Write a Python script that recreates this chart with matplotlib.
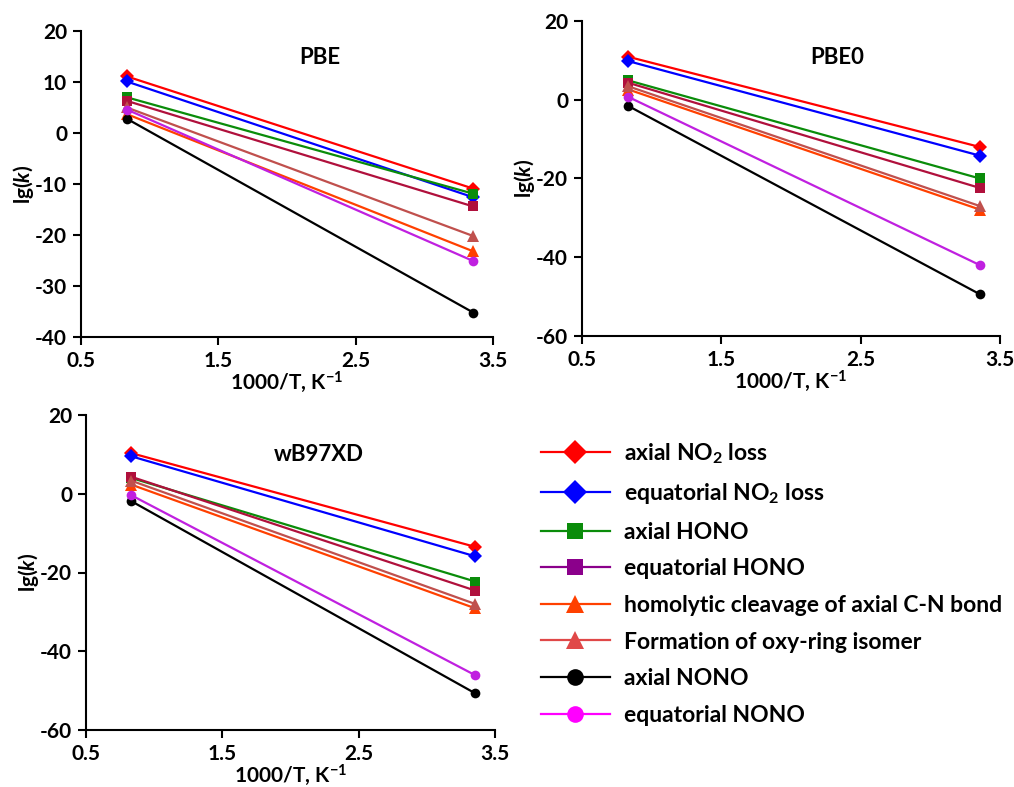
import matplotlib
matplotlib.use("Agg")
import matplotlib.pyplot as plt
from matplotlib.lines import Line2D

plt.rcParams["font.family"] = ["Lato", "DejaVu Sans"]
plt.rcParams["font.weight"] = "bold"
plt.rcParams["axes.labelweight"] = "bold"
plt.rcParams["axes.unicode_minus"] = False
plt.rcParams["mathtext.fontset"] = "custom"
plt.rcParams["mathtext.rm"] = "Lato:bold"
plt.rcParams["mathtext.it"] = "Lato:bold:italic"
plt.rcParams["mathtext.bf"] = "Lato:bold"

# 1000/T at 1200 K and 298 K
inv_t = [1000 / 1200, 1000 / 298]

labels = [
    "axial NO$_2$ loss",
    "equatorial NO$_2$ loss",
    "axial HONO",
    "equatorial HONO",
    "homolytic cleavage of axial C-N bond",
    "Formation of oxy-ring isomer",
    "axial NONO",
    "equatorial NONO",
]

# lg(k) at [1200 K, 298 K] for each channel
pbe = [
    [11.1, -10.9],
    [10.1, -12.6],
    [7.0, -11.9],
    [6.3, -14.4],
    [3.7, -23.2],
    [5.0, -20.2],
    [2.8, -35.2],
    [4.6, -25.1],
]
pbe0 = [
    [10.9, -12.0],
    [9.8, -14.2],
    [4.9, -20.0],
    [4.3, -22.4],
    [2.6, -27.9],
    [3.4, -27.0],
    [-1.6, -49.4],
    [0.7, -42.0],
]
wb97xd = [
    [10.3, -13.5],
    [9.5, -15.9],
    [4.0, -22.3],
    [4.3, -24.6],
    [2.3, -29.1],
    [3.3, -28.0],
    [-1.9, -50.7],
    [-0.4, -46.1],
]

line_colors = ["#FF0000", "#0000FF", "#0A8C0A", "#B0103C",
               "#FF4000", "#C0504D", "#000000", "#C020E0"]
legend_colors = ["#FF0000", "#0000FF", "#0A8C0A", "#8B008B",
                 "#FF4000", "#E04848", "#000000", "#FF00FF"]
markers = ["D", "D", "s", "s", "^", "^", "o", "o"]

fig = plt.figure(figsize=(10.14, 7.87), dpi=100)
W, H = 1014, 787


def make_axes(x0, x1, y0, y1):
    return fig.add_axes([x0 / W, 1 - y1 / H, (x1 - x0) / W, (y1 - y0) / H])


def panel(ax, data, title, ylim, yticks, tx, ty):
    for vals, c, m in zip(data, line_colors, markers):
        ax.plot(inv_t, vals, color=c, marker=m, markersize=7 if m != "^" else 8,
                linewidth=1.6, markeredgewidth=0)
    ax.set_xlim(0.5, 3.5)
    ax.set_ylim(*ylim)
    ax.set_xticks([0.5, 1.5, 2.5, 3.5])
    ax.set_xticklabels(["0.5", "1.5", "2.5", "3.5"])
    ax.set_yticks(yticks)
    ax.spines["top"].set_visible(False)
    ax.spines["right"].set_visible(False)
    for s in ("left", "bottom"):
        ax.spines[s].set_linewidth(1.5)
    ax.tick_params(direction="out", length=6, width=1.5, labelsize=15, pad=4)
    plt.setp(ax.get_xticklabels() + ax.get_yticklabels(), fontweight="bold")
    ax.set_xlabel("1000/T, K$^{-1}$", fontsize=15, fontweight="bold", labelpad=-1)
    ax.set_ylabel("lg($\\mathit{k}$)", fontsize=15, fontweight="bold", labelpad=-1)
    ax.text(tx, ty, title, transform=ax.transAxes, fontsize=16,
            fontweight="bold", ha="center", va="center")


ax1 = make_axes(81, 493, 31, 337)
panel(ax1, pbe, "PBE", (-40, 20), range(-40, 21, 10), 0.58, 0.915)

ax2 = make_axes(582, 1000, 21, 336)
panel(ax2, pbe0, "PBE0", (-60, 20), range(-60, 21, 20), 0.61, 0.885)

ax3 = make_axes(86, 495, 415, 730)
panel(ax3, wb97xd, "wB97XD", (-60, 20), range(-60, 21, 20), 0.57, 0.874)

handles = [
    Line2D([], [], color=c, marker=m, markersize=12 if m != "^" else 13,
           linewidth=1.6, markeredgewidth=0)
    for c, m in zip(legend_colors, markers)
]
leg = fig.legend(handles, labels, loc="upper left",
                 bbox_to_anchor=(541 / W, 1 - 441 / H),
                 frameon=False, fontsize=16.5, handlelength=3.0,
                 handletextpad=0.6, labelspacing=0.68, borderaxespad=0,
                 borderpad=0)
for t in leg.get_texts():
    t.set_fontweight("bold")

fig.savefig("out.png", dpi=100)
